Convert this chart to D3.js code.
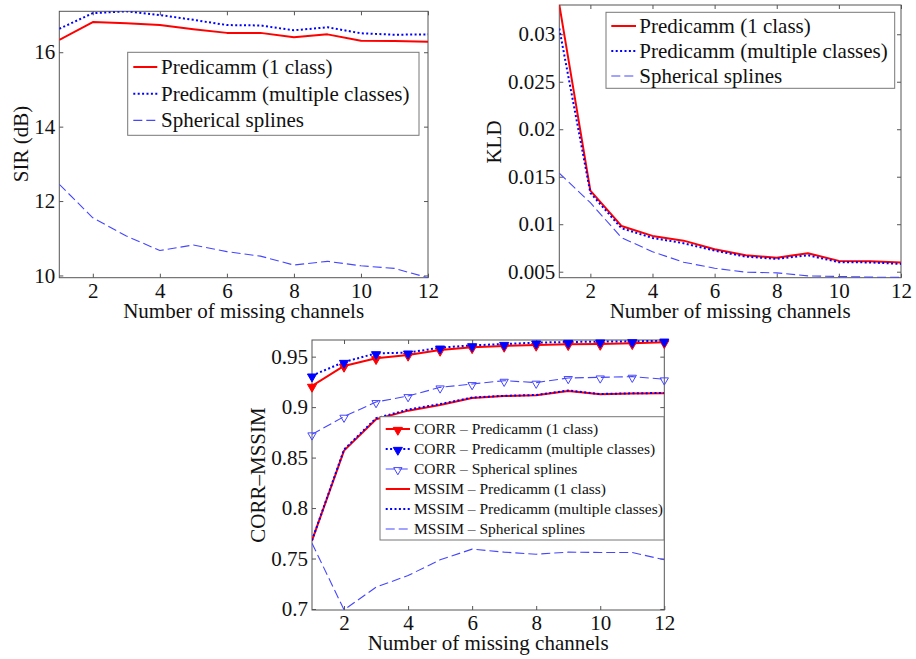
<!DOCTYPE html>
<html><head><meta charset="utf-8">
<script src="https://cdn.jsdelivr.net/npm/d3@7"></script>
<style>
body{margin:0;background:#fff;}
svg{display:block;font-family:"Liberation Serif","Times New Roman",serif;}
</style></head>
<body>
<svg id="chart" width="916" height="659"></svg>
<script>
const channels = [1,2,3,4,5,6,7,8,9,10,11,12];
const xTicks = [2,4,6,8,10,12];

const sir1      = [16.33,16.81,16.78,16.73,16.62,16.52,16.52,16.40,16.48,16.31,16.30,16.28];
const sirMulti  = [16.63,17.05,17.10,17.00,16.87,16.73,16.72,16.59,16.67,16.51,16.47,16.48];
const sirSpline = [12.45,11.55,11.06,10.67,10.82,10.64,10.52,10.28,10.38,10.26,10.19,9.94];
const sirTicks = [10,12,14,16];
const sirTickLabels = ["10","12","14","16"];

const kld1      = [0.0331,0.01354,0.00982,0.00877,0.00827,0.00737,0.00674,0.00648,0.00695,0.00614,0.0061,0.00596];
const kldMulti  = [0.0306,0.0133,0.00958,0.00856,0.0080,0.00722,0.00659,0.00635,0.00674,0.0060,0.00598,0.00582];
const kldSpline = [0.01537,0.01227,0.00859,0.00711,0.0060,0.00537,0.00495,0.00488,0.00456,0.0045,0.00443,0.0044];
const kldTicks = [0.005,0.01,0.015,0.02,0.025,0.03];
const kldTickLabels = ["0.005","0.01","0.015","0.02","0.025","0.03"];

const corr1      = [0.921,0.9408,0.9484,0.9517,0.9566,0.9592,0.9606,0.9616,0.9622,0.9625,0.9632,0.9642];
const corrMulti  = [0.9312,0.9447,0.9533,0.954,0.9589,0.9612,0.9625,0.9639,0.9645,0.9649,0.9652,0.9658];
const corrSpline = [0.8731,0.8906,0.9051,0.911,0.9196,0.9229,0.9262,0.9243,0.9289,0.9295,0.9302,0.9276];
const mssim1      = [0.7678,0.8569,0.888,0.8965,0.9021,0.9091,0.911,0.9117,0.916,0.9127,0.9134,0.9137];
const mssimMulti  = [0.768,0.858,0.889,0.8975,0.903,0.9095,0.9112,0.912,0.9165,0.913,0.9137,0.914];
const mssimSpline = [0.7652,0.6992,0.7216,0.7332,0.7487,0.7593,0.7563,0.7543,0.7563,0.756,0.756,0.7487];
const cmTicks = [0.7,0.75,0.8,0.85,0.9,0.95];
const cmTickLabels = ["0.7","0.75","0.8","0.85","0.9","0.95"];

const xLabel = "Number of missing channels";
const legendTop = ["Predicamm (1 class)","Predicamm (multiple classes)","Spherical splines"];
const legendBottom = ["CORR – Predicamm (1 class)","CORR – Predicamm (multiple classes)","CORR – Spherical splines",
  "MSSIM – Predicamm (1 class)","MSSIM – Predicamm (multiple classes)","MSSIM – Spherical splines"];

const RED="#ff0000", BLUE="#0000ff", LBLUE="#4646ff";
const styles = {
  one:   {stroke:RED, width:2, dash:null},
  multi: {stroke:BLUE, width:2, dash:"2,2.4"},
  spline:{stroke:LBLUE, width:1.1, dash:"9,4"}
};

const svg = d3.select("#chart");
const FS = 21;
const SERIF = "Liberation Serif";

function panel(cfg){
  const x = d3.scaleLinear().domain([1,12]).range([cfg.left,cfg.right]);
  const y = d3.scaleLinear().domain(cfg.ydom).range([cfg.bottom,cfg.top]);
  const g = svg.append("g");
  const clipId = "clip"+cfg.id;
  svg.append("clipPath").attr("id",clipId).append("rect")
    .attr("x",cfg.left).attr("y",cfg.top).attr("width",cfg.right-cfg.left).attr("height",cfg.bottom-cfg.top);

  const ax = (a)=>a.tickSizeOuter(0);
  const gb = g.append("g").attr("transform",`translate(0,${cfg.bottom})`)
    .call(ax(d3.axisBottom(x).tickValues(xTicks).tickSize(-4).tickPadding(5).tickFormat(d3.format("d"))));
  const gt = g.append("g").attr("transform",`translate(0,${cfg.top})`)
    .call(ax(d3.axisTop(x).tickValues(xTicks).tickSize(-4).tickFormat("")));
  const gl = g.append("g").attr("transform",`translate(${cfg.left},0)`)
    .call(ax(d3.axisLeft(y).tickValues(cfg.yticks).tickSize(-4).tickPadding(4).tickFormat((d,i)=>cfg.ylabels[i])));
  const gr = g.append("g").attr("transform",`translate(${cfg.right},0)`)
    .call(ax(d3.axisRight(y).tickValues(cfg.yticks).tickSize(-4).tickFormat("")));
  [gb,gt,gl,gr].forEach(s=>{
    s.attr("font-family",SERIF);
    s.select(".domain").remove();
    s.selectAll(".tick line").attr("stroke","#555").attr("stroke-width",1);
    s.selectAll("text").attr("font-size",FS).attr("fill","#111").attr("font-family",SERIF);
  });
  g.append("rect").attr("x",cfg.left).attr("y",cfg.top).attr("width",cfg.right-cfg.left).attr("height",cfg.bottom-cfg.top)
    .attr("fill","none").attr("stroke","#555").attr("stroke-width",1);

  svg.append("text").attr("x",(cfg.left+cfg.right)/2).attr("y",cfg.xlabY).attr("text-anchor","middle")
    .attr("font-size",FS).attr("font-family",SERIF).attr("fill","#111").text(xLabel);
  svg.append("text").attr("transform",`translate(${cfg.ylabX},${cfg.ylabCY}) rotate(-90)`).attr("text-anchor","middle")
    .attr("font-size",FS).attr("font-family",SERIF).attr("fill","#111").text(cfg.ylabel);

  const lines = svg.append("g").attr("clip-path",`url(#${clipId})`);
  const line = d3.line().x((d,i)=>x(channels[i])).y(d=>y(d));
  cfg.series.forEach(s=>{
    const st = styles[s.style];
    lines.append("path").datum(s.values).attr("d",line).attr("fill","none")
      .attr("stroke",st.stroke).attr("stroke-width",st.width).attr("stroke-dasharray",st.dash)
      .attr("stroke-linejoin","round");
  });
  const symFor = (m)=>d3.symbol().type(d3.symbolTriangle).size(m==="open"?30:36);
  cfg.series.forEach(s=>{
    if(!s.marker) return;
    const st = styles[s.style];
    svg.append("g").selectAll("path").data(s.values).join("path")
      .attr("d",symFor(s.marker)).attr("transform",(d,i)=>`translate(${x(channels[i])},${y(d)+1}) rotate(180)`)
      .attr("fill",s.marker==="open"?"none":st.stroke).attr("stroke",st.stroke).attr("stroke-width",1);
  });

  const L = cfg.legend;
  const lg = svg.append("g");
  lg.append("rect").attr("x",L.x0).attr("y",L.y0).attr("width",L.x1-L.x0).attr("height",L.y1-L.y0)
    .attr("fill","#fff").attr("stroke","#777").attr("stroke-width",1);
  cfg.series.forEach((s,i)=>{
    const st = styles[s.style];
    const cy = L.firstY + i*L.step;
    lg.append("line").attr("x1",L.sx0).attr("x2",L.sx1).attr("y1",cy).attr("y2",cy)
      .attr("stroke",st.stroke).attr("stroke-width",st.width).attr("stroke-dasharray",st.dash);
    if(s.marker){
      lg.append("path").attr("d",symFor(s.marker)).attr("transform",`translate(${(L.sx0+L.sx1)/2},${cy+1}) rotate(180)`)
        .attr("fill",s.marker==="open"?"none":st.stroke).attr("stroke",st.stroke).attr("stroke-width",1);
    }
    lg.append("text").attr("x",L.tx).attr("y",cy).attr("dy","0.33em").attr("font-size",L.fs)
      .attr("font-family",SERIF).attr("fill","#111").text(L.labels[i]);
  });
}

panel({id:1,left:59.3,right:428,top:11.3,bottom:277.7,ydom:[9.94,17.1],yticks:sirTicks,ylabels:sirTickLabels,
  xlabY:318,ylabX:28,ylabCY:144,ylabel:"SIR (dB)",
  series:[{values:sir1,style:"one"},{values:sirMulti,style:"multi"},{values:sirSpline,style:"spline"}],
  legend:{x0:127.7,x1:419,y0:52.3,y1:135.3,sx0:133.3,sx1:157.3,tx:161,firstY:67,step:26.7,fs:FS,labels:legendTop}});

panel({id:2,left:559.3,right:901,top:5,bottom:277.7,ydom:[0.00437,0.03308],yticks:kldTicks,ylabels:kldTickLabels,
  xlabY:318,ylabX:501,ylabCY:142,ylabel:"KLD",
  series:[{values:kld1,style:"one"},{values:kldMulti,style:"multi"},{values:kldSpline,style:"spline"}],
  legend:{x0:606,x1:894.7,y0:12.3,y1:88.3,sx0:611.3,sx1:636,tx:639.3,firstY:26,step:25,fs:FS,labels:legendTop}});

panel({id:3,left:312,right:664.3,top:340,bottom:610,ydom:[0.699,0.9665],yticks:cmTicks,ylabels:cmTickLabels,
  xlabY:650,ylabX:265,ylabCY:475,ylabel:"CORR–MSSIM",
  series:[{values:corr1,style:"one",marker:"filled"},{values:corrMulti,style:"multi",marker:"filled"},
          {values:corrSpline,style:"spline",marker:"open"},
          {values:mssim1,style:"one"},{values:mssimMulti,style:"multi"},{values:mssimSpline,style:"spline"}],
  legend:{x0:380,x1:664,y0:416.7,y1:540,sx0:385.7,sx1:410,tx:414,firstY:429,step:20,fs:15.5,labels:legendBottom}});
</script>
</body></html>
